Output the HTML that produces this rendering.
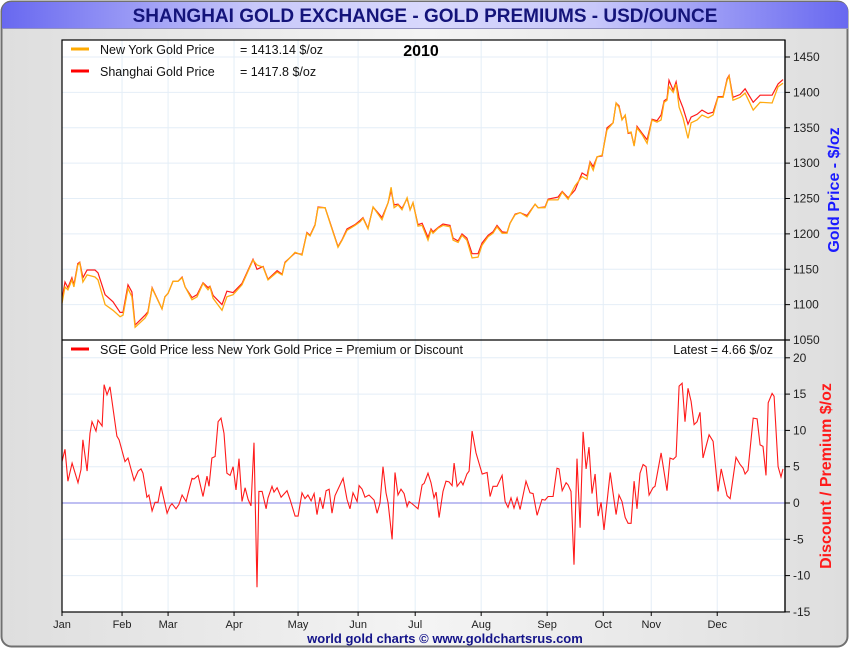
<!DOCTYPE html>
<html><head><meta charset="utf-8">
<style>
html,body{margin:0;padding:0;background:#fff;}
body{width:850px;height:650px;overflow:hidden;font-family:"Liberation Sans",sans-serif;}
</style></head>
<body>
<svg id="chart" width="850" height="650" xmlns="http://www.w3.org/2000/svg" font-family="Liberation Sans, sans-serif">
<defs>
<linearGradient id="tg" x1="0" x2="1" y1="0" y2="0">
<stop offset="0" stop-color="#6868f0"/><stop offset="0.3" stop-color="#c8c8fa"/><stop offset="0.5" stop-color="#d8d8fc"/><stop offset="0.7" stop-color="#c8c8fa"/><stop offset="1" stop-color="#6868f0"/>
</linearGradient>
<linearGradient id="bg" x1="0" x2="1" y1="0" y2="0">
<stop offset="0" stop-color="#dedede"/><stop offset="0.5" stop-color="#f4f4f4"/><stop offset="1" stop-color="#dedede"/>
</linearGradient>
</defs>
<rect x="1.5" y="1.5" width="846" height="645" rx="10" fill="url(#bg)" stroke="#707070" stroke-width="2"/>
<path d="M2,28 L2,12 Q2,2 12,2 L838,2 Q848,2 848,12 L848,28 Z" fill="url(#tg)"/>
<line x1="2" y1="28.5" x2="848" y2="28.5" stroke="#9090c0" stroke-width="1"/>
<text x="425" y="22" text-anchor="middle" font-size="19" font-weight="bold" fill="#14147a">SHANGHAI GOLD EXCHANGE - GOLD PREMIUMS - USD/OUNCE</text>
<rect x="62" y="40" width="723" height="572" fill="#fff"/>
<g id="grid"></g>
<g id="series"></g>
<rect x="62" y="40" width="723" height="572" fill="none" stroke="#000" stroke-width="1.2"/>
<line x1="62" y1="340" x2="790" y2="340" stroke="#000" stroke-width="1.2"/>
<g id="axes" font-size="12" fill="#222"></g>
<line x1="71" y1="49" x2="89" y2="49" stroke="#ffaa00" stroke-width="3"/>
<text x="100" y="54" font-size="12.5" fill="#111">New York Gold Price</text>
<text x="240" y="54" font-size="12.5" fill="#111">= 1413.14 $/oz</text>
<line x1="71" y1="71" x2="89" y2="71" stroke="#ff0000" stroke-width="3"/>
<text x="100" y="76" font-size="12.5" fill="#111">Shanghai Gold Price</text>
<text x="240" y="76" font-size="12.5" fill="#111">= 1417.8 $/oz</text>
<text x="421" y="56" text-anchor="middle" font-size="16" font-weight="bold" fill="#000">2010</text>
<line x1="71" y1="349" x2="89" y2="349" stroke="#ff0000" stroke-width="3"/>
<text x="100" y="354" font-size="12.5" fill="#111">SGE Gold Price less New York Gold Price = Premium or Discount</text>
<text x="773" y="354" text-anchor="end" font-size="12.5" fill="#111">Latest = 4.66 $/oz</text>
<text transform="translate(839,190) rotate(-90)" text-anchor="middle" font-size="16" font-weight="bold" fill="#1a1aff">Gold Price - $/oz</text>
<text transform="translate(831,476) rotate(-90)" text-anchor="middle" font-size="16" font-weight="bold" fill="#ff1a1a">Discount / Premium $/oz</text>
<text x="445" y="643" text-anchor="middle" font-size="13" font-weight="bold" fill="#14148a">world gold charts © www.goldchartsrus.com</text>
</svg>
<script>
const monthLabels=["Jan","Feb","Mar","Apr","May","Jun","Jul","Aug","Sep","Oct","Nov","Dec"];
const monthStarts=[0,30.4,53.7,87.1,119.5,149.9,178.8,212.2,245.6,274,298.3,331.7];
const priceTicks=[1050,1100,1150,1200,1250,1300,1350,1400,1450];
const premTicks=[-15,-10,-5,0,5,10,15,20];
const nyDays=[0,1.5,3,5,6,8,9,10.6,12.7,16.7,18.2,21.8,25.8,29.4,30.9,33.4,35.4,37,42,43.5,45.6,50.6,52.1,53.7,56.2,58.7,60.8,62.3,65.8,68.4,71.4,73.9,74.9,76.5,81,83.5,86.6,91.1,96.7,98.7,101.8,104.3,108.9,111.4,112.9,118,121.5,124,125.6,128.1,129.6,133.2,135.7,139.7,141.8,144.3,148.3,150.9,152.4,154.9,157.5,162,165.1,166.6,168.1,170.1,172.1,174.7,176.2,177.7,180.2,182.3,185.3,186.8,187.8,190.4,192.9,196.4,198,200.5,202.5,205,207.6,210.6,212.6,215.7,218.2,220.2,222.8,225.3,226.8,229.4,231.9,235.4,239.5,241,244.5,246.1,251.1,253.2,256.2,259.7,263.3,265.8,267.3,268.9,270.9,273.4,275.9,279,280.5,282,283.5,285.1,286.6,288.1,289.6,291.1,293.7,296.2,298.7,301.2,303.3,304.8,306.3,307.3,309.4,310.9,312.4,314.4,316.9,318.5,321.5,324,327.1,329.6,332.1,334.7,336.7,337.7,339.7,343.3,345.8,349.9,353.4,359.5,362.5,365];
const nyPrice=[1102,1125,1121,1135,1125,1156,1159,1132,1142,1139,1135,1100,1092,1083,1085,1123,1111,1068,1081,1088,1123,1094,1111,1116,1133,1133,1138,1125,1107,1111,1130,1121,1125,1109,1092,1111,1114,1128,1163,1156,1153,1135,1146,1142,1159,1174,1170,1201,1197,1212,1237,1237,1215,1181,1191,1205,1212,1217,1222,1207,1238,1220,1244,1266,1237,1241,1234,1251,1234,1244,1211,1212,1191,1205,1201,1208,1212,1210,1191,1188,1198,1191,1166,1167,1184,1196,1201,1210,1201,1201,1215,1227,1230,1224,1242,1237,1237,1248,1248,1259,1249,1268,1281,1277,1300,1290,1309,1311,1347,1357,1385,1379,1361,1368,1343,1344,1324,1350,1340,1328,1361,1358,1361,1386,1389,1408,1400,1412,1379,1364,1335,1357,1361,1368,1364,1368,1393,1393,1417,1423,1389,1393,1399,1375,1386,1385,1408,1413];
const sgePrice=[1107,1132,1124,1138,1128,1158,1160,1138,1149,1149,1145,1114,1104,1089,1089,1128,1118,1071,1085,1090,1124,1094,1111,1116,1133,1133,1139,1125,1110,1114,1131,1124,1126,1113,1100,1119,1117,1130,1164,1150,1154,1136,1148,1143,1160,1173,1171,1202,1198,1213,1238,1237,1216,1182,1192,1207,1213,1219,1223,1208,1238,1223,1244,1261,1241,1242,1236,1250,1234,1244,1213,1215,1195,1207,1203,1209,1214,1212,1194,1190,1200,1194,1172,1172,1187,1198,1203,1212,1203,1202,1215,1228,1230,1226,1242,1237,1238,1249,1252,1260,1251,1262,1286,1282,1302,1295,1309,1310,1350,1357,1385,1381,1362,1367,1342,1343,1325,1352,1342,1333,1362,1360,1368,1388,1391,1417,1403,1415,1392,1378,1355,1365,1369,1375,1370,1372,1394,1394,1419,1424,1393,1397,1405,1386,1396,1396,1412,1418];
const premDays=[0,1.5,3,5.1,8.1,9.6,10.6,12.7,14.2,15.2,17.2,18.2,20.3,21.3,22.8,24.3,27.8,28.9,31.9,33.4,36.5,38.5,40,41,43,44,45.6,47.1,48.6,50.1,53.2,54.7,55.7,57.7,59.2,60.8,62.8,63.8,65.8,66.8,68.9,71.4,73.4,74.4,75.9,77.5,79,80.5,82,83.5,85.1,86.6,88.1,89.6,91.1,92.7,94.2,95.7,97.2,98.7,99.7,101.3,103.3,104.3,106.3,107.3,108.9,110.9,113.9,115.4,118,119.5,121.5,123,124.5,126.1,127.6,129.1,130.6,132.1,133.7,135.2,136.7,138.2,142.3,144.3,145.8,147.3,149.4,150.4,151.9,153.4,155.4,158,159.5,161,162.5,164,165.1,167.1,168.6,170.1,171.6,173.2,174.7,175.7,177.7,180.2,182.3,183.3,185.3,186.8,188.3,189.4,190.9,192.9,194.4,195.9,197.5,198.5,200,202,203,205,206.1,207.6,209.6,212.7,215.2,216.7,218.2,220.2,222.8,224.3,225.8,227.3,228.8,230.4,231.9,234.9,236.9,238.5,240.5,243,244.5,246.1,248.6,250.6,251.6,253.2,255.2,256.2,257.7,259.2,260.7,262.3,263.8,265.3,266.8,268.3,269.9,271.4,272.9,274.4,277.5,280.5,282,283.5,285.1,286.6,288.1,289.6,291.1,292.6,294.2,295.7,297.2,299.2,300.2,303.3,306.3,307.8,309.4,310.9,312.4,313.9,315.4,316.9,318.5,320,321.5,323,324.5,327.6,329.6,332.1,333.7,336.7,338.2,341.2,343.3,344.8,345.8,347.3,349.9,351.9,353.4,354.9,356.4,357.5,359.5,360.5,362.5,364,365];
const premVals=[5.7,7.4,3,5.5,2.8,4.6,8.7,4.4,9.6,11.2,9.9,11.4,10.6,16.3,14.9,16,9.2,8.7,5.7,6.2,3.1,4.4,4.7,4.1,0.8,1.1,-1.1,0.1,0.1,2.3,-1.4,-0.4,-0.1,-0.8,-0.2,1.1,0.2,1.3,3.4,3.3,3.8,0.9,3.7,2.3,6.2,6.4,11.2,11.7,9.6,4.1,3.8,5,1.8,6.1,0.2,2.1,0.5,-0.4,8.3,-11.6,1.6,1.6,-0.8,0.7,2.3,1.5,2.1,0.8,1.7,0.5,-1.8,-1.8,1.4,0.6,1.1,0.3,1.3,-1.6,0.8,-0.8,1.7,1.9,-1.4,1,3.4,0.5,-0.8,1.4,0.2,2.4,1.9,0.8,1.1,0.4,-1.4,0,5,1.4,0,-5,4.2,1.1,1.9,1.3,-0.5,0.2,-0.2,-0.8,2.5,2.7,4.1,2.8,0.7,1.5,-2,1.6,3,2.9,2.4,5.5,2.3,3,2.5,4,4.4,9.9,6.9,4,4.2,0.9,2.3,2.3,3.8,0.2,-0.6,0.7,-0.7,0.7,-0.9,3,1.4,1.3,-1.7,0.5,0.4,0.9,0.9,4.8,4.7,1.7,2.8,2.5,1.6,-8.5,6.1,-3.4,9.8,4.7,7.7,1.3,4,-1.8,0.1,-3.7,4.2,-1.6,1.1,0.2,-2,-2.8,-2.8,3,-0.8,4.1,5.3,5,1.1,2.1,2.3,6.9,1.7,6.2,6,6.4,16.1,16.5,11.2,15.8,14,10.8,11.2,12.5,6.2,9.4,8.5,1.6,4.7,1,0.6,6.3,5.3,4.8,4,4.5,11.7,11.6,8,7.8,3.8,13.8,15.1,14.7,5,3.6,4.7];

const NS="http://www.w3.org/2000/svg";
const X0=62,X1=783,D0=0,D1=365;
function xScale(d){return X0+(d-D0)/(D1-D0)*(X1-X0);}
function yPrice(v){return 340-(v-1050)/(1450-1050)*(340-57);}
function yPrem(v){return 503-v/5*36.3;}
const grid=document.getElementById('grid');
const axes=document.getElementById('axes');
const series=document.getElementById('series');
function mk(tag,attrs,parent){const e=document.createElementNS(NS,tag);for(const k in attrs)e.setAttribute(k,attrs[k]);parent.appendChild(e);return e;}

monthStarts.forEach((d,i)=>{
  const x=xScale(d);
  if(i>0){const g=mk('line',{x1:x,y1:40,x2:x,y2:612,stroke:'#e4eef7','stroke-width':1},grid);
  
  }
  mk('line',{x1:x,y1:612,x2:x,y2:616,stroke:'#000'},axes);
  const t=mk('text',{x:x,y:628,'text-anchor':'middle','font-size':11},axes);
  t.textContent=monthLabels[i];
  
  
});
priceTicks.forEach(v=>{
  const y=yPrice(v);
  if(v>1050){const g=mk('line',{x1:62,y1:y,x2:785,y2:y,stroke:'#e4eef7'},grid);
  
  }
  mk('line',{x1:785,y1:y,x2:790,y2:y,stroke:'#000'},axes);
  const t=mk('text',{x:793,y:y+4},axes);
  t.textContent=v;
  
  
});
premTicks.forEach(v=>{
  const y=yPrem(v);
  if(v!==0&&v>-15){const g=mk('line',{x1:62,y1:y,x2:785,y2:y,stroke:'#e4eef7'},grid);
  
  }
  mk('line',{x1:785,y1:y,x2:790,y2:y,stroke:'#000'},axes);
  const t=mk('text',{x:793,y:y+4},axes);
  t.textContent=v;
  
  
});
const zl=mk('line',{x1:62,y1:yPrem(0),x2:785,y2:yPrem(0),stroke:'#7f7fe6','stroke-width':1},grid);


mk('line',{x1:785,y1:40,x2:785,y2:612,stroke:'#000','stroke-width':1.2},axes);

function pts(days,vals,ys){return days.map((d,i)=>xScale(d).toFixed(1)+','+ys(vals[i]).toFixed(1)).join(' ');}
const ny=mk('polyline',{points:pts(nyDays,nyPrice,yPrice),fill:'none',stroke:'#ffaa11','stroke-width':1.3},series);


const sge=mk('polyline',{points:pts(nyDays,sgePrice,yPrice),fill:'none',stroke:'#ff1a1a','stroke-width':1.2},series);


series.appendChild(ny);
const pr=mk('polyline',{points:pts(premDays,premVals,yPrem),fill:'none',stroke:'#ff1a1a','stroke-width':1.1},series);


</script>
</body></html>
